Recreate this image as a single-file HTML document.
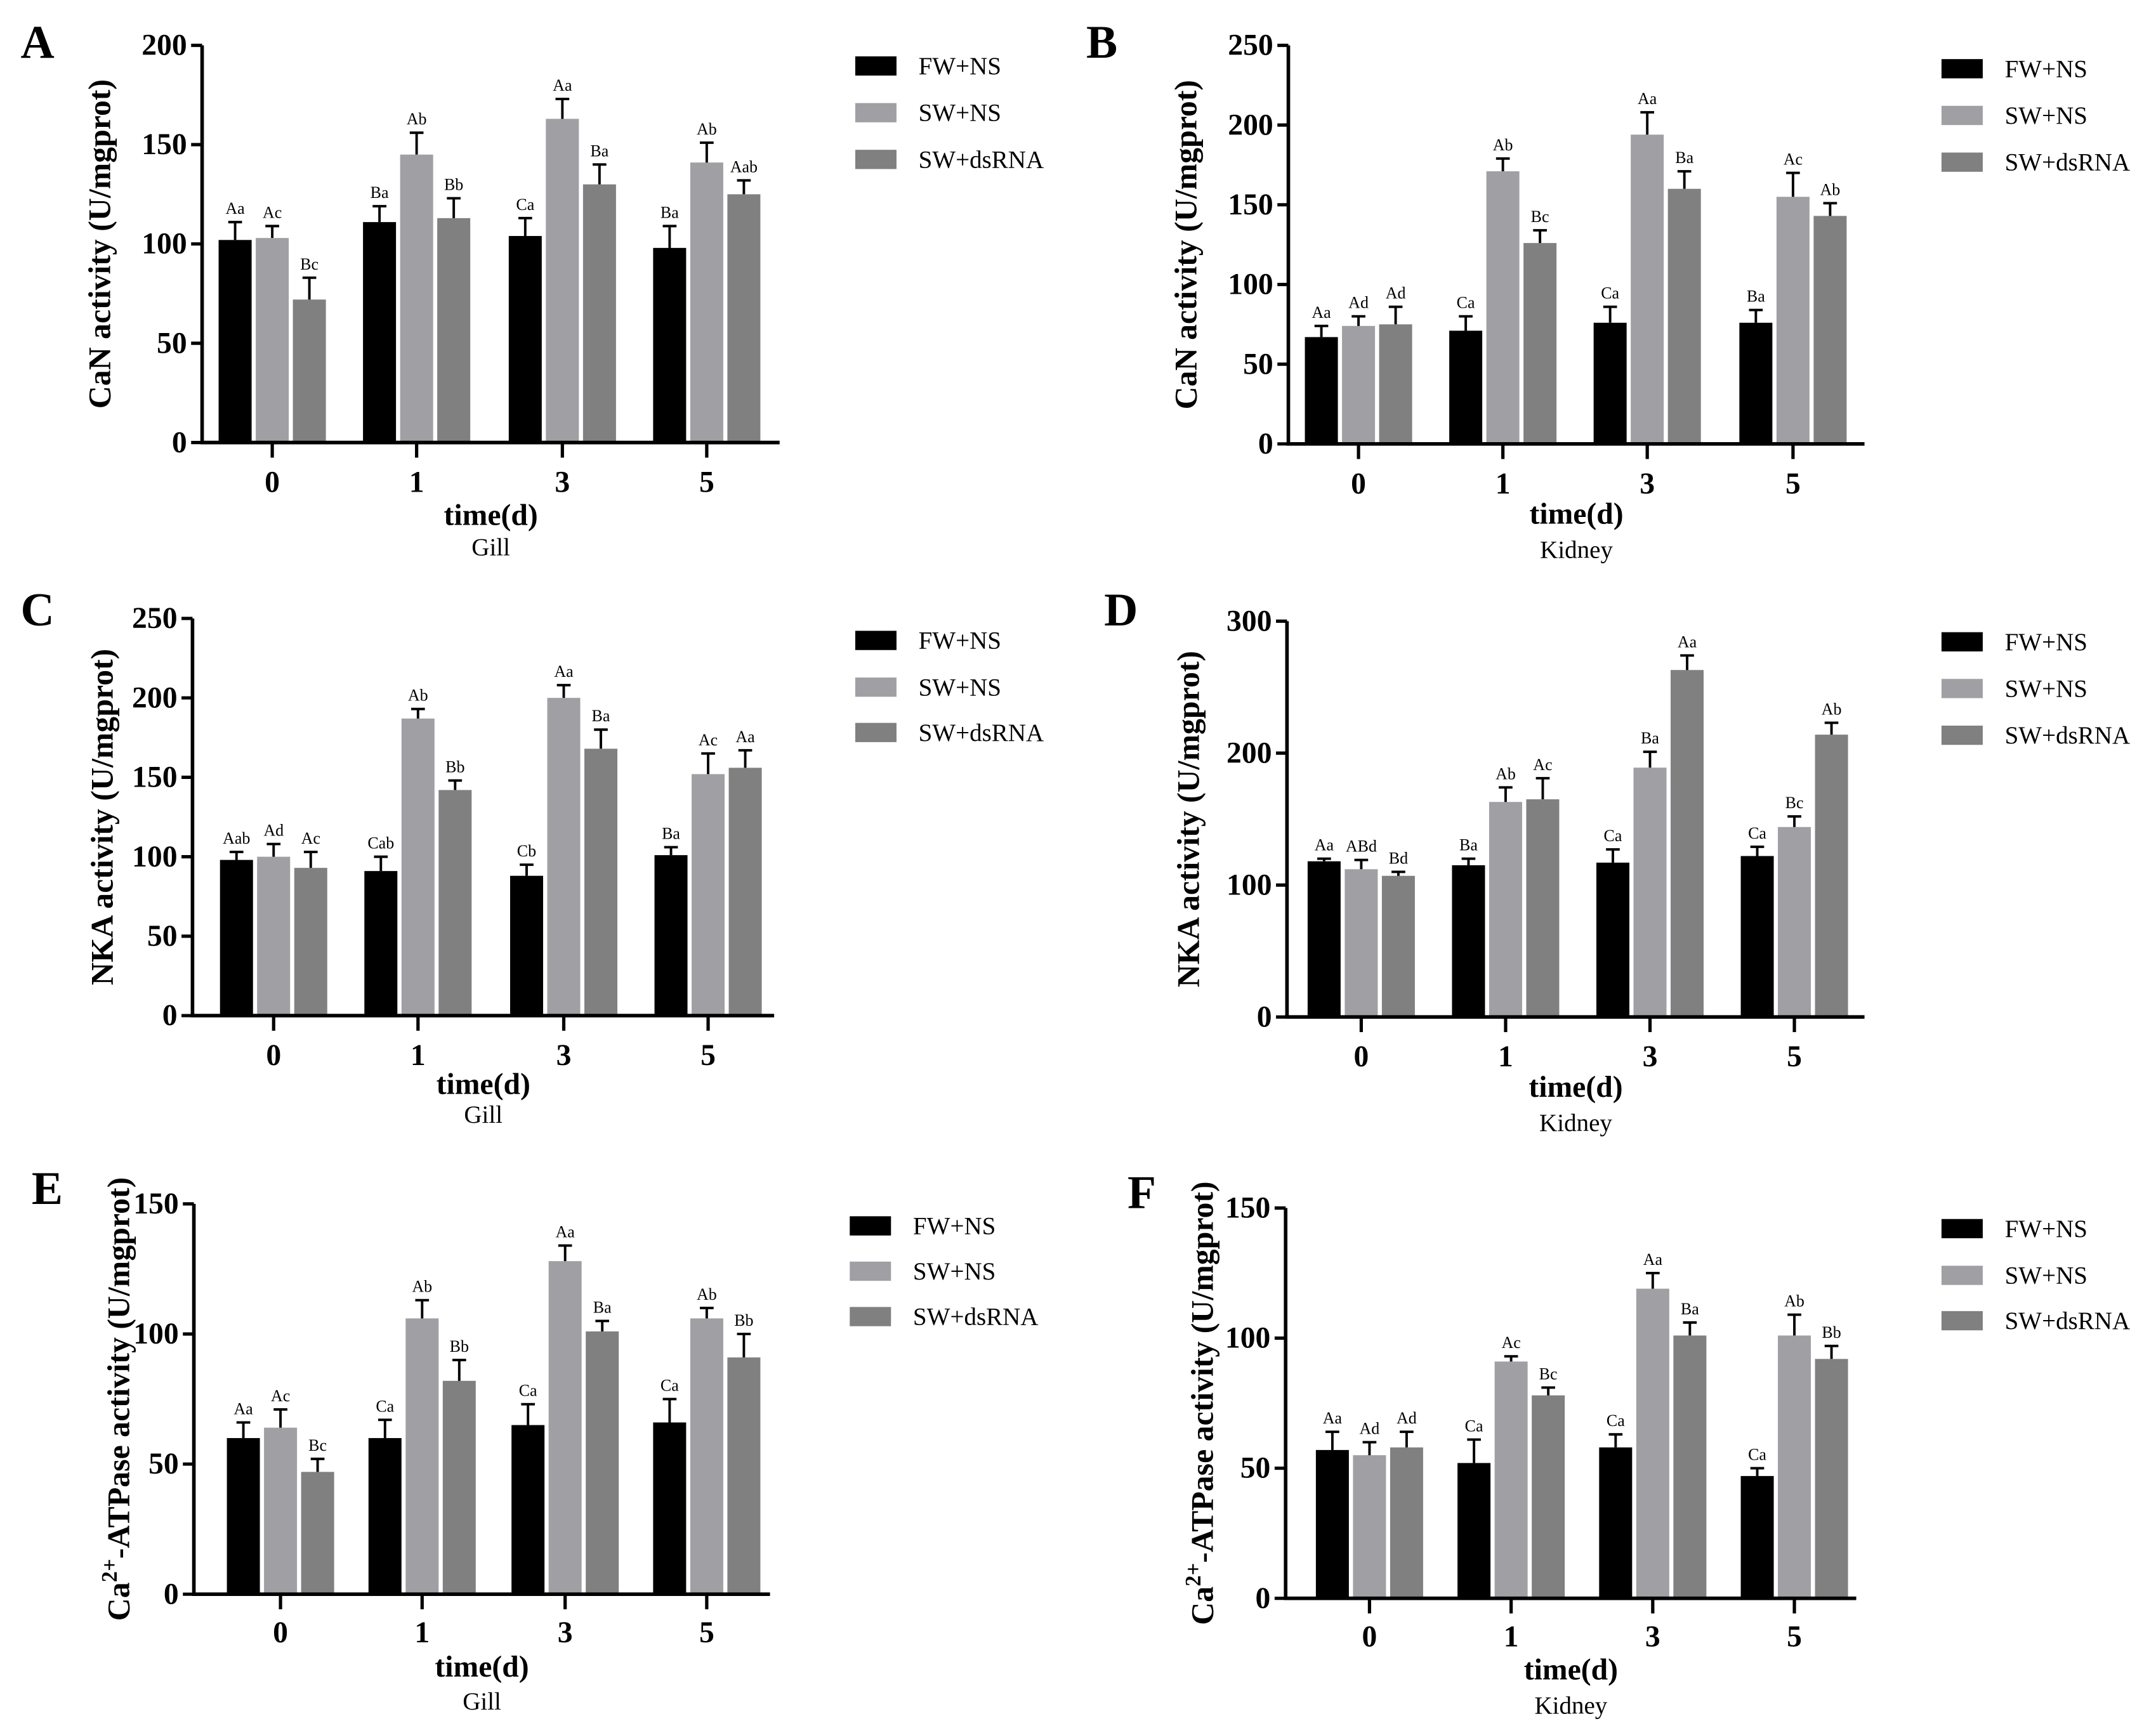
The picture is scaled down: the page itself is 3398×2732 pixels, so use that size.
<!DOCTYPE html>
<html><head><meta charset="utf-8"><style>
html,body{margin:0;padding:0;background:#fff}
svg{display:block}
text{font-family:"Liberation Serif",serif}
</style></head><body>
<svg id="fig" width="3398" height="2732" viewBox="0 0 1568 1261" preserveAspectRatio="none" xmlns="http://www.w3.org/2000/svg"></svg>
<script>
const categories = ["0","1","3","5"];
const seriesNames = ["FW+NS","SW+NS","SW+dsRNA"];
// Panel A
const aFW=[102,111,104,98], aFWe=[9,8,9,11], aSW=[103,145,163,141], aSWe=[6,11,10,10], aDS=[72,113,130,125], aDSe=[11,10,10,7];
const aLab=[["Aa","Ba","Ca","Ba"],["Ac","Ab","Aa","Ab"],["Bc","Bb","Ba","Aab"]];
const aTicks=[0,50,100,150,200];
// Panel B
const bFW=[67,71,76,76], bFWe=[7,9,10,8], bSW=[74,171,194,155], bSWe=[6,8,14,15], bDS=[75,126,160,143], bDSe=[11,8,11,8];
const bLab=[["Aa","Ca","Ca","Ba"],["Ad","Ab","Aa","Ac"],["Ad","Bc","Ba","Ab"]];
const bTicks=[0,50,100,150,200,250];
// Panel C
const cFW=[98,91,88,101], cFWe=[5,9,7,5], cSW=[100,187,200,152], cSWe=[8,6,8,13], cDS=[93,142,168,156], cDSe=[10,6,12,11];
const cLab=[["Aab","Cab","Cb","Ba"],["Ad","Ab","Aa","Ac"],["Ac","Bb","Ba","Aa"]];
const cTicks=[0,50,100,150,200,250];
// Panel D
const dFW=[118,115,117,122], dFWe=[2,5,10,7], dSW=[112,163,189,144], dSWe=[7,11,12,8], dDS=[107,165,263,214], dDSe=[3,16,11,9];
const dLab=[["Aa","Ba","Ca","Ca"],["ABd","Ab","Ba","Bc"],["Bd","Ac","Aa","Ab"]];
const dTicks=[0,100,200,300];
// Panel E
const eFW=[60,60,65,66], eFWe=[6,7,8,9], eSW=[64,106,128,106], eSWe=[7,7,6,4], eDS=[47,82,101,91], eDSe=[5,8,4,9];
const eLab=[["Aa","Ca","Ca","Ca"],["Ac","Ab","Aa","Ab"],["Bc","Bb","Ba","Bb"]];
const eTicks=[0,50,100,150];
// Panel F
const fFW=[57,52,58,47], fFWe=[7,9,5,3], fSW=[55,91,119,101], fSWe=[5,2,6,8], fDS=[58,78,101,92], fDSe=[6,3,5,5];
const fLab=[["Aa","Ca","Ca","Ca"],["Ad","Ac","Aa","Ab"],["Ad","Bc","Ba","Bb"]];
const fTicks=[0,50,100,150];

const colors=["#000000","#a0a0a4","#808080"];
const NS="http://www.w3.org/2000/svg";
const svg=document.getElementById('fig');
function mk(tag,attrs,parent){const e=document.createElementNS(NS,tag);for(const k in attrs)e.setAttribute(k,attrs[k]);(parent||svg).appendChild(e);return e;}

const panels=[
 {id:"a",letter:"A",lx:15,ly:42,ax:147,top:33,bot:322,xend:567,centers:[198,303,409,514],max:200,ticks:aTicks,vals:[aFW,aSW,aDS],errs:[aFWe,aSWe,aDSe],lab:aLab,ylab:"CaN activity (U/mgprot)",ytx:80,leg:622,legY:[48,82,116],xl:358,tl:382,sub:"Gill",sl:404},
 {id:"b",letter:"B",lx:790,ly:42,ax:937,top:33,bot:323,xend:1356,centers:[988,1093,1198,1304],max:250,ticks:bTicks,vals:[bFW,bSW,bDS],errs:[bFWe,bSWe,bDSe],lab:bLab,ylab:"CaN activity (U/mgprot)",ytx:870,leg:1412,legY:[50,84,118],xl:359,tl:381,sub:"Kidney",sl:406},
 {id:"c",letter:"C",lx:15,ly:455,ax:140,top:450,bot:739,xend:563,centers:[199,304,410,515],max:250,ticks:cTicks,vals:[cFW,cSW,cDS],errs:[cFWe,cSWe,cDSe],lab:cLab,ylab:"NKA activity (U/mgprot)",ytx:82,leg:622,legY:[466,500,533],xl:775,tl:796,sub:"Gill",sl:817},
 {id:"d",letter:"D",lx:803,ly:455,ax:936,top:452,bot:740,xend:1356,centers:[990,1095,1200,1305],max:300,ticks:dTicks,vals:[dFW,dSW,dDS],errs:[dFWe,dSWe,dDSe],lab:dLab,ylab:"NKA activity (U/mgprot)",ytx:872,leg:1412,legY:[467,501,535],xl:776,tl:798,sub:"Kidney",sl:823},
 {id:"e",letter:"E",lx:23,ly:876,ax:141,top:876,bot:1160,xend:560,centers:[204,307,411,514],max:150,ticks:eTicks,vals:[eFW,eSW,eDS],errs:[eFWe,eSWe,eDSe],lab:eLab,ylab:"Ca2+-ATPase activity (U/mgprot)",ytx:94,leg:618,legY:[892,925,958],xl:1195,tl:1220,sub:"Gill",sl:1244},
 {id:"f",letter:"F",lx:820,ly:879,ax:935,top:879,bot:1163,xend:1350,centers:[996,1099,1202,1305],max:150,ticks:fTicks,vals:[fFW,fSW,fDS],errs:[fFWe,fSWe,fDSe],lab:fLab,ylab:"Ca2+-ATPase activity (U/mgprot)",ytx:882,leg:1412,legY:[894,928,961],xl:1198,tl:1222,sub:"Kidney",sl:1247}
];

panels.forEach(p=>{
 const g=mk('g',{});
 
 
 const y=v=>p.bot-(v/p.max)*(p.bot-p.top);
 const L=mk('text',{x:p.lx,y:p.ly,'font-size':34,'font-weight':'bold'},g);L.textContent=p.letter;
 
 
 const bw=24, off=27;
 for(let s=0;s<3;s++){
  for(let i=0;i<categories.length;i++){
   const cx=p.centers[i]+(s-1)*off, v=p.vals[s][i], e=p.errs[s][i];
   const r=mk('rect',{x:cx-bw/2,y:y(v),width:bw,height:p.bot-y(v),fill:colors[s]},g);
   
   
   const et=y(v+e);
   const eb=mk('path',{d:`M${cx} ${y(v)}V${et}M${cx-5} ${et}H${cx+5}`,stroke:'#000','stroke-width':1.8,fill:'none'},g);
   
   
   const t=mk('text',{x:cx,y:et-6,'font-size':12,'text-anchor':'middle'},g);t.textContent=p.lab[s][i];
   
   
  }
 }
 const ax=mk('path',{d:`M${p.ax} ${p.top}V${p.bot}H${p.xend}`,stroke:'#000','stroke-width':2.6,fill:'none'},g);
 
 
 p.ticks.forEach(tv=>{
  const ty=y(tv);
  mk('path',{d:`M${p.ax-8} ${ty}H${p.ax}`,stroke:'#000','stroke-width':2.4},g);
  const t=mk('text',{x:p.ax-11,y:ty+7,'font-size':22,'font-weight':'bold','text-anchor':'end'},g);t.textContent=tv;
  
  
 });
 categories.forEach((c,i)=>{
  const cx=p.centers[i];
  mk('path',{d:`M${cx} ${p.bot}V${p.bot+11}`,stroke:'#000','stroke-width':2.4},g);
  const t=mk('text',{x:cx,y:p.xl,'font-size':22,'font-weight':'bold','text-anchor':'middle'},g);t.textContent=c;
  
  
 });
 const xt=mk('text',{x:(p.ax+p.xend)/2,y:p.tl,'font-size':22,'font-weight':'bold','text-anchor':'middle'},g);xt.textContent="time(d)";
 
 
 const st=mk('text',{x:(p.ax+p.xend)/2,y:p.sl,'font-size':18,'text-anchor':'middle'},g);st.textContent=p.sub;
 
 
 const cy=(p.top+p.bot)/2;
 const yt=mk('text',{x:p.ytx,y:cy,'font-size':23,'font-weight':'bold','text-anchor':'middle',transform:`rotate(-90 ${p.ytx} ${cy})`},g);
 
 
 if(p.ylab.startsWith("Ca2+")){
  yt.appendChild(document.createTextNode("Ca"));
  const sp=mk('tspan',{dy:-9,'font-size':16},yt);sp.textContent="2+";
  const sp2=mk('tspan',{dy:9},yt);sp2.textContent="-ATPase activity (U/mgprot)";
 } else yt.textContent=p.ylab;
 seriesNames.forEach((n,s)=>{
  const ly=p.legY[s];
  const sw=mk('rect',{x:p.leg,y:ly-7,width:30,height:14,fill:colors[s]},g);
  
  
  const t=mk('text',{x:p.leg+46,y:ly+6,'font-size':18},g);t.textContent=n;
  
  
 });
});
</script>
</body></html>
